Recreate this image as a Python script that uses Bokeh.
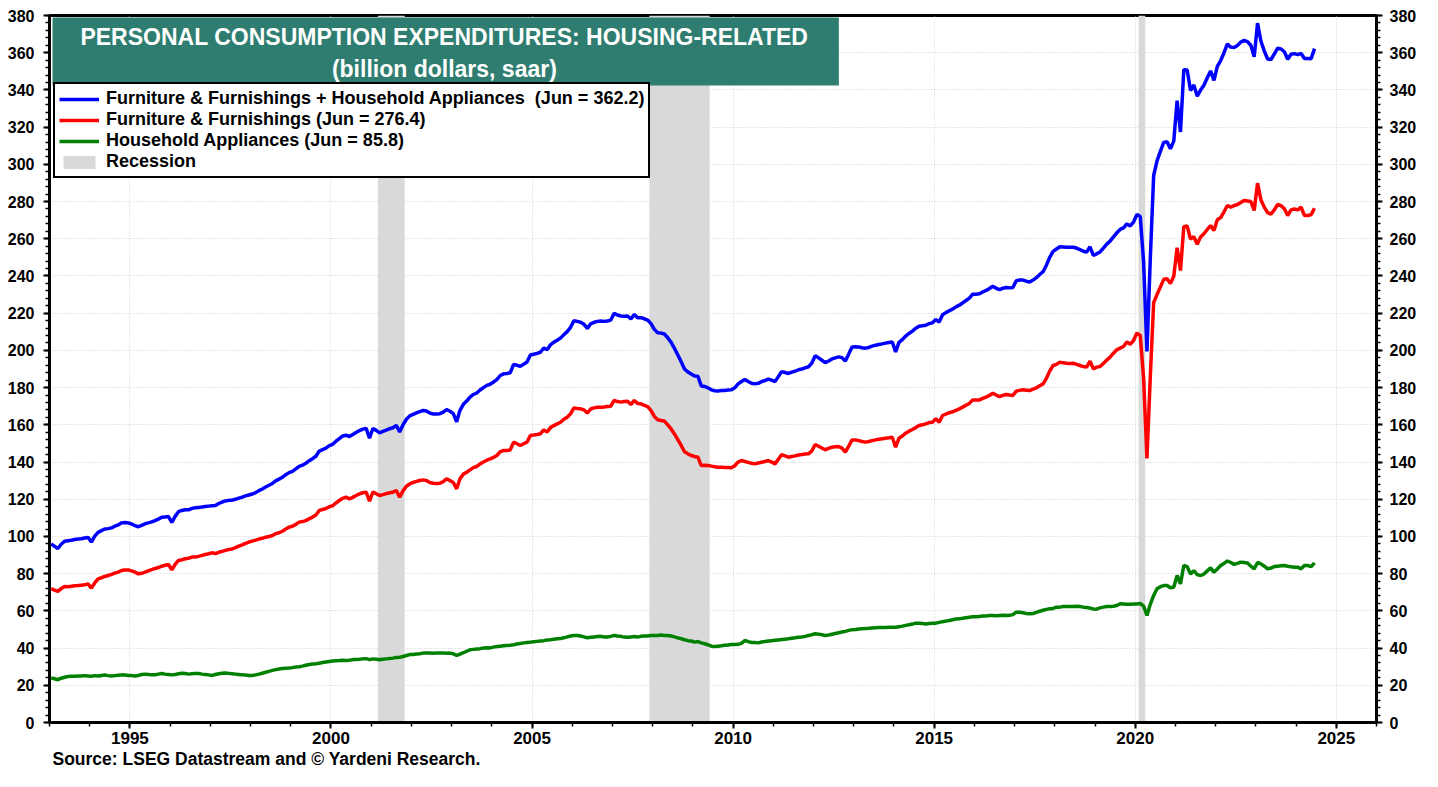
import pandas as pd
from bokeh.plotting import figure
from bokeh.models import (Range1d, LinearAxis, SingleIntervalTicker, BoxAnnotation,
                          Label, Legend, LegendItem, Title, ColumnDataSource)
from bokeh.embed import file_html
from bokeh.resources import INLINE

# ---------------- data (billion dollars, saar), monthly from Jan 1993 ----------------
start_month = "1993-01-01"

# Furniture & Furnishings
furnishings = [
    72.0, 71.2, 70.5, 72.0, 73.1, 73.0, 73.2, 73.5, 73.6, 73.8, 74.0, 74.5,          # 1993
    72.2, 75.0, 77.2, 77.8, 78.5, 79.0, 79.6, 80.3, 80.8, 81.7, 82.0, 82.0,          # 1994
    81.5, 80.8, 79.9, 80.2, 80.8, 81.5, 82.2, 82.8, 83.3, 84.0, 84.5, 84.9,          # 1995
    82.0, 85.0, 87.1, 87.5, 88.0, 88.3, 88.9, 89.0, 89.3, 89.8, 90.3, 90.7,          # 1996
    91.2, 90.8, 91.5, 92.0, 92.5, 93.0, 93.3, 94.0, 94.8, 95.5, 96.3, 97.0,          # 1997
    97.5, 98.0, 98.6, 99.0, 99.6, 100.0, 100.5, 101.5, 102.0, 102.8, 104.0, 105.0,   # 1998
    105.5, 106.5, 107.7, 108.0, 108.5, 109.5, 110.4, 111.5, 114.0, 114.5, 115.0, 116.0,  # 1999
    116.5, 118.0, 119.3, 120.5, 121.1, 120.2, 121.0, 122.0, 122.9, 123.5, 123.8, 119.0,  # 2000
    123.8, 123.0, 122.0, 122.5, 123.0, 123.5, 123.8, 124.7, 121.1, 124.5, 127.0, 128.3,  # 2001
    129.0, 129.6, 130.1, 130.4, 130.0, 129.0, 128.6, 128.5, 128.6, 129.5, 131.0, 130.0,  # 2002
    129.0, 125.6, 131.0, 133.5, 134.5, 135.8, 137.0, 137.6, 139.0, 140.0, 141.0, 141.7,  # 2003
    142.5, 143.5, 145.5, 146.2, 146.2, 146.5, 150.7, 149.8, 148.9, 149.8, 150.7, 154.3,  # 2004
    154.5, 154.8, 155.2, 157.3, 156.1, 158.5, 159.6, 160.5, 161.4, 163.0, 164.1, 165.9,  # 2005
    169.1, 168.8, 168.6, 168.0, 166.3, 168.5, 169.1, 169.4, 169.5, 169.6, 169.8, 170.0,  # 2006
    173.1, 172.5, 172.2, 172.5, 172.7, 170.9, 173.1, 171.5, 171.3, 170.5, 169.8, 167.6,  # 2007
    164.5, 162.7, 162.3, 162.0, 160.0, 157.8, 155.1, 152.0, 148.9, 145.5, 144.4, 143.5,  # 2008
    143.0, 142.6, 138.1, 138.3, 138.1, 137.8, 137.5, 137.2, 137.2, 137.0, 137.0, 136.9,  # 2009
    138.0, 140.0, 140.8, 140.3, 139.8, 139.3, 139.0, 139.5, 139.9, 140.3, 140.8, 140.0,  # 2010
    139.0, 141.5, 144.0, 143.3, 142.6, 143.0, 143.3, 143.8, 144.0, 144.3, 144.4, 146.0,  # 2011
    149.4, 148.5, 147.5, 146.6, 147.3, 148.0, 148.2, 148.3, 147.5, 145.3, 148.5, 151.9,  # 2012
    151.9, 151.5, 151.0, 150.7, 151.0, 151.5, 151.9, 152.2, 152.5, 152.8, 153.0, 153.3,  # 2013
    148.0, 152.8, 154.0, 155.5, 156.6, 157.5, 158.5, 159.6, 160.0, 160.5, 161.2, 161.4,  # 2014
    163.2, 161.4, 165.0, 165.8, 166.5, 167.0, 167.8, 168.6, 169.5, 170.5, 171.5, 173.4,  # 2015
    173.4, 173.4, 174.2, 174.9, 175.8, 177.0, 176.0, 175.2, 175.8, 176.3, 176.0, 175.8,  # 2016
    178.1, 178.5, 178.8, 178.6, 178.4, 179.2, 179.9, 181.0, 182.0, 185.0, 189.0, 191.9,  # 2017
    192.5, 193.7, 193.3, 193.1, 193.0, 193.1, 192.5, 191.9, 191.3, 191.0, 194.2, 190.1,  # 2018
    191.0, 191.3, 193.0, 194.8, 196.4, 198.5, 200.3, 201.2, 202.1, 204.5, 203.3, 205.3,  # 2019
    209.3, 208.0, 185.0, 141.9, 186.0, 225.7, 230.0, 234.0, 238.2, 238.5, 236.0, 239.8,  # 2020
    255.2, 242.9, 266.5, 266.9, 259.9, 261.1, 257.1, 260.9, 262.7, 265.0, 267.1, 264.4,  # 2021
    270.2, 271.4, 274.5, 277.9, 277.0, 277.8, 278.4, 279.5, 280.6, 280.3, 280.0, 275.2,  # 2022
    289.9, 281.0, 277.0, 274.0, 273.3, 275.5, 278.4, 277.8, 276.1, 272.5, 275.5, 276.0,  # 2023
    275.5, 277.0, 272.5, 272.5, 273.0, 276.4,                                            # 2024
]

# Household Appliances
appliances = [
    24.0, 23.5, 23.0, 23.8, 24.3, 24.7, 24.8, 24.9, 25.0, 25.0, 25.2, 25.0,  # 1993
    24.8, 25.2, 25.0, 25.3, 25.5, 25.2, 25.0, 25.2, 25.4, 25.6, 25.5, 25.3,  # 1994
    25.2, 25.0, 25.3, 25.8, 26.0, 25.8, 25.6, 25.7, 26.0, 26.3, 26.0, 25.8,  # 1995
    25.6, 25.8, 26.2, 26.5, 26.3, 26.0, 26.2, 26.4, 26.3, 26.0, 25.8, 25.6,  # 1996
    25.3, 25.8, 26.2, 26.5, 26.6, 26.4, 26.2, 26.0, 25.8, 25.6, 25.5, 25.3,  # 1997
    25.3, 25.6, 26.0, 26.5, 27.0, 27.5, 28.0, 28.4, 28.8, 29.0, 29.2, 29.3,  # 1998
    29.5, 29.8, 30.0, 30.3, 30.8, 31.2, 31.4, 31.6, 31.9, 32.2, 32.5, 32.8,  # 1999
    33.0, 33.2, 33.3, 33.5, 33.3, 33.5, 33.8, 33.9, 34.0, 34.2, 34.3, 33.8,  # 2000
    34.2, 34.0, 33.7, 34.0, 34.2, 34.4, 34.6, 35.0, 35.1, 35.5, 36.0, 36.5,  # 2001
    36.6, 36.8, 37.0, 37.3, 37.4, 37.3, 37.2, 37.3, 37.4, 37.3, 37.2, 37.3,  # 2002
    37.0, 36.0, 36.8, 37.5, 38.3, 39.1, 39.3, 39.5, 39.7, 40.0, 40.2, 40.1,  # 2003
    40.5, 40.8, 41.0, 41.2, 41.4, 41.5, 41.8, 42.2, 42.5, 42.8, 43.0, 43.2,  # 2004
    43.4, 43.6, 43.8, 44.0, 44.3, 44.5, 44.8, 45.0, 45.2, 45.5, 46.0, 46.5,  # 2005
    46.8, 46.8, 46.5, 46.0, 45.5, 45.8, 46.0, 46.2, 46.3, 46.0, 46.0, 46.3,  # 2006
    46.8, 46.5, 46.3, 45.9, 45.8, 46.0, 46.2, 46.0, 46.3, 46.5, 46.5, 46.8,  # 2007
    46.8, 46.8, 47.0, 46.8, 46.8, 46.5, 46.0, 45.5, 45.0, 44.5, 44.0, 43.8,  # 2008
    43.2, 43.5, 42.8, 42.3, 41.8, 41.0, 40.8, 41.0, 41.2, 41.5, 41.7, 41.9,  # 2009
    41.9, 42.0, 42.5, 44.1, 43.5, 43.0, 43.0, 42.8, 43.3, 43.5, 43.8, 44.0,  # 2010
    44.2, 44.4, 44.6, 44.8, 45.0, 45.3, 45.5, 45.8, 46.0, 46.3, 46.8, 47.2,  # 2011
    47.7, 47.5, 47.2, 46.8, 47.0, 47.4, 47.8, 48.2, 48.6, 49.0, 49.5, 49.9,  # 2012
    50.0, 50.3, 50.4, 50.5, 50.6, 50.8, 50.9, 51.0, 51.0, 51.1, 51.2, 51.2,  # 2013
    51.2, 51.5, 51.8, 52.2, 52.5, 52.9, 53.4, 53.4, 53.2, 53.0, 53.2, 53.4,  # 2014
    53.4, 53.8, 54.2, 54.5, 54.8, 55.2, 55.6, 55.7, 56.0, 56.3, 56.6, 56.8,  # 2015
    56.8, 57.0, 57.2, 57.3, 57.5, 57.5, 57.4, 57.5, 57.6, 57.5, 57.6, 58.0,  # 2016
    59.3, 59.3, 59.0, 58.6, 58.4, 58.6, 59.2, 59.8, 60.3, 60.8, 61.1, 61.3,  # 2017
    62.0, 62.0, 62.3, 62.3, 62.4, 62.3, 62.5, 62.3, 62.0, 61.8, 61.5, 61.0,  # 2018
    60.9, 61.6, 62.0, 62.3, 62.3, 62.5, 62.9, 63.8, 63.7, 63.5, 63.6, 63.7,  # 2019
    63.7, 64.0, 62.5, 57.5, 63.5, 68.3, 71.9, 73.0, 73.6, 73.6, 72.4, 72.7,  # 2020
    79.0, 74.5, 84.4, 83.8, 79.8, 81.6, 79.5, 79.0, 79.8, 81.5, 83.1, 80.7,  # 2021
    82.5, 84.4, 85.5, 86.8, 86.0, 85.0, 85.5, 86.2, 86.0, 85.7, 84.0, 82.6,  # 2022
    86.0, 85.3, 84.0, 82.6, 83.0, 83.8, 84.0, 84.2, 84.4, 84.0, 83.7, 83.5,  # 2023
    83.5, 82.6, 84.4, 84.4, 83.8, 85.8,                                      # 2024
]

# Recessions (peak month start, trough month start)
recession_start = ["2001-03", "2007-12", "2020-02"]
recession_end = ["2001-11", "2009-06", "2020-04"]

x_tick_labels = ["1995", "2000", "2005", "2010", "2015", "2020", "2025"]
y_tick_step = 20

assert len(furnishings) == len(appliances) == 378

# ---------------- derived ----------------
months = pd.date_range(start_month, periods=len(furnishings), freq="MS")
t = list(months.year + (months.month - 0.5) / 12.0)
total = [round(a + b, 1) for a, b in zip(furnishings, appliances)]


def dec_year(s):
    d = pd.Timestamp(s)
    return d.year + (d.month - 1) / 12.0


rec_src = ColumnDataSource(dict(left=[dec_year(s) for s in recession_start],
                                right=[dec_year(s) for s in recession_end]))
src = ColumnDataSource(dict(t=t, total=total, ff=furnishings, ha=appliances))

FONT = "Liberation Sans"

p = figure(width=1422, height=771, x_range=Range1d(1993, 2026), y_range=Range1d(0, 380),
           output_backend="svg", toolbar_location=None,
           min_border_left=49, min_border_right=46, min_border_top=15, min_border_bottom=49,
           background_fill_color="white", border_fill_color="white")

p.outline_line_color = "black"
p.outline_line_width = 3
p.outline_line_alpha = 1

# axes
xt = SingleIntervalTicker(interval=5, num_minor_ticks=5)
yt = SingleIntervalTicker(interval=y_tick_step, num_minor_ticks=5)
p.xaxis.ticker = xt
p.yaxis.ticker = yt
p.add_layout(LinearAxis(ticker=yt), "right")


def style_axis(ax, size, standoff):
    ax.axis_line_width = 3
    ax.axis_line_color = "black"
    ax.major_tick_line_width = 2
    ax.major_tick_out = 6
    ax.major_tick_in = 0
    ax.minor_tick_line_width = 1.5
    ax.minor_tick_out = 4
    ax.minor_tick_in = 0
    ax.major_label_text_font = FONT
    ax.major_label_text_font_style = "bold"
    ax.major_label_text_font_size = size
    ax.major_label_text_color = "black"
    ax.major_label_standoff = standoff


for ax in p.xaxis:
    style_axis(ax, "17px", 3)
    ax.major_label_overrides = {int(s): s for s in x_tick_labels}
left_ax, right_ax = p.yaxis[0], p.yaxis[1]
style_axis(left_ax, "16px", 9)
style_axis(right_ax, "16px", 7)

for g in (p.xgrid, p.ygrid):
    g.grid_line_color = "#cfcfcf"
    g.grid_line_dash = "1 2"
    g.grid_line_width = 1

# recession bands
r_rec = p.quad(left="left", right="right", bottom=0, top=380, source=rec_src,
               fill_color="#d9d9d9", line_color=None)

# series
r_ha = p.line("t", "ha", source=src, line_color="#008000", line_width=3.5)
r_ff = p.line("t", "ff", source=src, line_color="#ff0000", line_width=3.5)
r_tot = p.line("t", "total", source=src, line_color="#0000ff", line_width=3.5)

# title box
p.add_layout(BoxAnnotation(left=1993.075, right=2012.63, top=378.9, bottom=342.4,
                           fill_color="#2e7d70", fill_alpha=1, line_alpha=0))
p.add_layout(Label(x=2002.82, y=368.7, text="PERSONAL CONSUMPTION EXPENDITURES: HOUSING-RELATED",
                   text_align="center", text_baseline="middle", text_font=FONT,
                   text_font_style="bold", text_font_size="23px", text_color="white"))
p.add_layout(Label(x=2002.82, y=351.3, text="(billion dollars, saar)",
                   text_align="center", text_baseline="middle", text_font=FONT,
                   text_font_style="bold", text_font_size="23px", text_color="white"))

# legend
items = [
    LegendItem(label=f"Furniture & Furnishings + Household Appliances  (Jun = {total[-1]:.1f})",
               renderers=[r_tot]),
    LegendItem(label=f"Furniture & Furnishings (Jun = {furnishings[-1]:.1f})", renderers=[r_ff]),
    LegendItem(label=f"Household Appliances (Jun = {appliances[-1]:.1f})", renderers=[r_ha]),
    LegendItem(label="Recession", renderers=[r_rec]),
]
legend = Legend(items=items, location=(4, 544), orientation="vertical",
                label_text_font=FONT, label_text_font_style="bold", label_text_font_size="18px",
                label_text_line_height=0.95,
                label_text_color="black", glyph_width=40, glyph_height=16, label_height=16,
                spacing=0, padding=4, margin=0, label_standoff=7,
                border_line_color="black", border_line_width=2, border_line_alpha=1,
                background_fill_color="white", background_fill_alpha=1)
p.add_layout(legend)

# source note
p.add_layout(Title(text="Source: LSEG Datastream and \u00a9 Yardeni Research.", align="left",
                   text_font=FONT, text_font_style="bold", text_font_size="17.5px",
                   text_color="black", offset=3, standoff=0), "below")

open("out.html", "w").write(file_html(p, INLINE))
